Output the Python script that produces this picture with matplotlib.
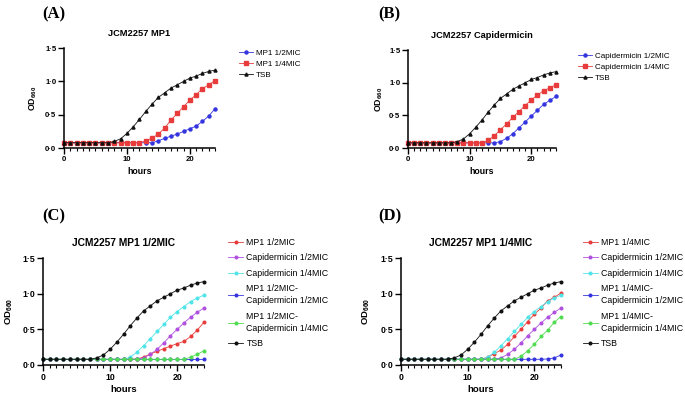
import matplotlib
matplotlib.use("Agg")
import matplotlib.pyplot as plt
import matplotlib.ticker as mticker

plt.rcParams['font.family'] = ['Liberation Sans', 'DejaVu Sans']
plt.rcParams['mathtext.fontset'] = 'custom'
plt.rcParams['mathtext.bf'] = 'Liberation Sans:bold'
plt.rcParams['mathtext.rm'] = 'Liberation Sans:bold'
plt.rcParams['mathtext.default'] = 'bf'

hours = list(range(25))

# OD660 readings, one per hour 0..24
tsb = [0.08, 0.08, 0.08, 0.08, 0.08, 0.08, 0.08, 0.08, 0.10, 0.14, 0.22, 0.32, 0.43,
       0.55, 0.66, 0.76, 0.83, 0.90, 0.95, 1.00, 1.05, 1.08, 1.12, 1.15, 1.17]

mp1_half_a = [0.08, 0.08, 0.08, 0.08, 0.08, 0.08, 0.08, 0.08, 0.08, 0.08, 0.08, 0.08, 0.08,
              0.08, 0.08, 0.11, 0.145, 0.18, 0.21, 0.25, 0.29, 0.33, 0.40, 0.48, 0.59]
mp1_quarter_a = [0.08, 0.08, 0.08, 0.08, 0.08, 0.08, 0.08, 0.08, 0.08, 0.08, 0.08, 0.08, 0.08,
                 0.11, 0.15, 0.21, 0.30, 0.42, 0.52, 0.62, 0.72, 0.80, 0.89, 0.95, 1.01]

cap_half_b = [0.08, 0.08, 0.08, 0.08, 0.08, 0.08, 0.08, 0.08, 0.08, 0.08, 0.08, 0.08, 0.08,
              0.08, 0.08, 0.10, 0.15, 0.22, 0.31, 0.40, 0.49, 0.58, 0.67, 0.73, 0.79]
cap_quarter_b = [0.08, 0.08, 0.08, 0.08, 0.08, 0.08, 0.08, 0.08, 0.08, 0.08, 0.08, 0.08, 0.08,
                 0.12, 0.19, 0.28, 0.37, 0.47, 0.56, 0.65, 0.74, 0.81, 0.88, 0.92, 0.97]

mp1_half_c = [0.08, 0.08, 0.08, 0.08, 0.08, 0.08, 0.08, 0.08, 0.08, 0.08, 0.08, 0.08, 0.08,
              0.08, 0.085, 0.11, 0.155, 0.19, 0.23, 0.265, 0.30, 0.33, 0.40, 0.49, 0.60]
cap_half = [0.08, 0.08, 0.08, 0.08, 0.08, 0.08, 0.08, 0.08, 0.08, 0.08, 0.08, 0.08, 0.08,
            0.08, 0.08, 0.10, 0.15, 0.22, 0.31, 0.41, 0.50, 0.59, 0.67, 0.74, 0.80]
cap_quarter = [0.08, 0.08, 0.08, 0.08, 0.08, 0.08, 0.08, 0.08, 0.08, 0.08, 0.08, 0.08, 0.08,
               0.11, 0.18, 0.27, 0.37, 0.47, 0.57, 0.67, 0.75, 0.82, 0.89, 0.94, 0.98]
combo_half_half = [0.08, 0.08, 0.08, 0.08, 0.08, 0.08, 0.08, 0.08, 0.08, 0.08, 0.08, 0.08, 0.08,
                   0.08, 0.08, 0.08, 0.08, 0.08, 0.08, 0.08, 0.08, 0.08, 0.08, 0.08, 0.08]
combo_half_quarter = [0.08, 0.08, 0.08, 0.08, 0.08, 0.08, 0.08, 0.08, 0.08, 0.08, 0.08, 0.08, 0.08,
                      0.08, 0.08, 0.08, 0.08, 0.08, 0.08, 0.08, 0.08, 0.08, 0.11, 0.15, 0.20]

mp1_quarter_d = [0.08, 0.08, 0.08, 0.08, 0.08, 0.08, 0.08, 0.08, 0.08, 0.08, 0.08, 0.08, 0.08,
                 0.11, 0.16, 0.21, 0.29, 0.40, 0.50, 0.61, 0.71, 0.80, 0.90, 0.95, 1.01]
combo_quarter_half = [0.08, 0.08, 0.08, 0.08, 0.08, 0.08, 0.08, 0.08, 0.08, 0.08, 0.08, 0.08, 0.08,
                      0.08, 0.08, 0.08, 0.08, 0.08, 0.08, 0.08, 0.08, 0.08, 0.085, 0.10, 0.14]
combo_quarter_quarter = [0.08, 0.08, 0.08, 0.08, 0.08, 0.08, 0.08, 0.08, 0.08, 0.08, 0.08, 0.08, 0.08,
                         0.08, 0.08, 0.08, 0.08, 0.08, 0.12, 0.20, 0.29, 0.40, 0.49, 0.60, 0.68]

RED = '#e83c3c'
BLUE = '#3535e0'
CYAN = '#50e4e8'
PURPLE = '#b050e0'
GREEN = '#50dc50'
BLACK = '#111111'

fig = plt.figure(figsize=(6.85, 3.96), dpi=100)


def style_axes(ax, title, big, ylab_x):
    ts = 7.4 if big else 6.7   # title size
    ks = 6.3 if big else 5.6   # tick label size
    ls = 6.8 if big else 6.3   # axis label size
    ax.set_xlim(0, 24)
    ax.set_ylim(0, 1.5)
    for s in ['top', 'right']:
        ax.spines[s].set_visible(False)
    for s in ['left', 'bottom']:
        ax.spines[s].set_linewidth(1.1)
    ax.xaxis.set_major_locator(mticker.FixedLocator([0, 10, 20]))
    ax.xaxis.set_minor_locator(mticker.MultipleLocator(1))
    ax.yaxis.set_major_locator(mticker.FixedLocator([0, 0.5, 1.0, 1.5]))
    ax.yaxis.set_major_formatter(mticker.FuncFormatter(lambda v, p: ('%.1f' % v).replace('.', '·')))
    ax.tick_params(which='major', direction='out', length=4, width=1.0, labelsize=ks, pad=1.5)
    ax.tick_params(which='minor', direction='out', length=2, width=0.8)
    for lab in ax.get_xticklabels() + ax.get_yticklabels():
        lab.set_fontweight('bold')
    ax.set_title(title, fontsize=ts, fontweight='bold', pad=9)
    ax.set_xlabel('hours', fontsize=ls, fontweight='bold')
    ax.set_ylabel('OD$_{660}$', fontsize=ls, fontweight='bold')
    ax.xaxis.set_label_coords(0.5, -0.19)
    ax.yaxis.set_label_coords(ylab_x, 0.5)


def plot_line(ax, y, color, marker, label, ms=2.2):
    ax.plot(hours, y, color=color, lw=0.6, marker=marker, ms=ms, label=label, clip_on=False)


# (A)
axA = fig.add_axes([0.0934, 0.626, 0.2204, 0.2525])
plot_line(axA, mp1_half_a, BLUE, 'o', 'MP1 1/2MIC')
plot_line(axA, mp1_quarter_a, RED, 's', 'MP1 1/4MIC')
plot_line(axA, tsb, BLACK, '^', 'TSB')
style_axes(axA, 'JCM2257 MP1', False, -0.165)

# (B)
axB = fig.add_axes([0.5956, 0.626, 0.216, 0.2475])
plot_line(axB, cap_half_b, BLUE, 'o', 'Capidermicin 1/2MIC')
plot_line(axB, cap_quarter_b, RED, 's', 'Capidermicin 1/4MIC')
plot_line(axB, tsb, BLACK, '^', 'TSB')
style_axes(axB, 'JCM2257 Capidermicin', False, -0.156)

# (C)
axC = fig.add_axes([0.0628, 0.0783, 0.235, 0.270])
plot_line(axC, mp1_half_c, RED, 'o', 'MP1 1/2MIC', 1.9)
plot_line(axC, cap_half, PURPLE, 'o', 'Capidermicin 1/2MIC', 1.9)
plot_line(axC, cap_quarter, CYAN, 'o', 'Capidermicin 1/4MIC', 1.9)
plot_line(axC, combo_half_half, BLUE, 'o', 'MP1 1/2MIC-\nCapidermicin 1/2MIC', 1.9)
plot_line(axC, combo_half_quarter, GREEN, 'o', 'MP1 1/2MIC-\nCapidermicin 1/4MIC', 1.9)
plot_line(axC, tsb, BLACK, 'o', 'TSB', 1.9)
style_axes(axC, 'JCM2257 MP1 1/2MIC', True, -0.174)

# (D)
axD = fig.add_axes([0.5854, 0.0783, 0.2336, 0.270])
plot_line(axD, mp1_quarter_d, RED, 'o', 'MP1 1/4MIC', 1.9)
plot_line(axD, cap_half, PURPLE, 'o', 'Capidermicin 1/2MIC', 1.9)
plot_line(axD, cap_quarter, CYAN, 'o', 'Capidermicin 1/4MIC', 1.9)
plot_line(axD, combo_quarter_half, BLUE, 'o', 'MP1 1/4MIC-\nCapidermicin 1/2MIC', 1.9)
plot_line(axD, combo_quarter_quarter, GREEN, 'o', 'MP1 1/4MIC-\nCapidermicin 1/4MIC', 1.9)
plot_line(axD, tsb, BLACK, 'o', 'TSB', 1.9)
style_axes(axD, 'JCM2257 MP1 1/4MIC', True, -0.181)

leg_kw = dict(loc='upper left', frameon=False, handlelength=1.7,
              handletextpad=0.4, borderaxespad=0, borderpad=0, bbox_transform=fig.transFigure)
axA.legend(bbox_to_anchor=(0.349, 0.876), labelspacing=0.45, fontsize=5.8, **leg_kw)
axB.legend(bbox_to_anchor=(0.844, 0.869), labelspacing=0.45, fontsize=5.8, **leg_kw)
for ax, x in [(axC, 0.333), (axD, 0.851)]:
    leg = ax.legend(bbox_to_anchor=(x, 0.399), labelspacing=0.72, fontsize=6.3, **leg_kw)
    for t in leg.get_texts():
        t.set_linespacing(1.5)

for txt, x, y in [('(A)', 0.061, 0.985), ('(B)', 0.552, 0.985),
                  ('(C)', 0.061, 0.473), ('(D)', 0.552, 0.473)]:
    fig.text(x, y, txt, fontsize=12, fontweight='bold', family='Liberation Serif', va='top')

fig.savefig('out.png', dpi=100)
